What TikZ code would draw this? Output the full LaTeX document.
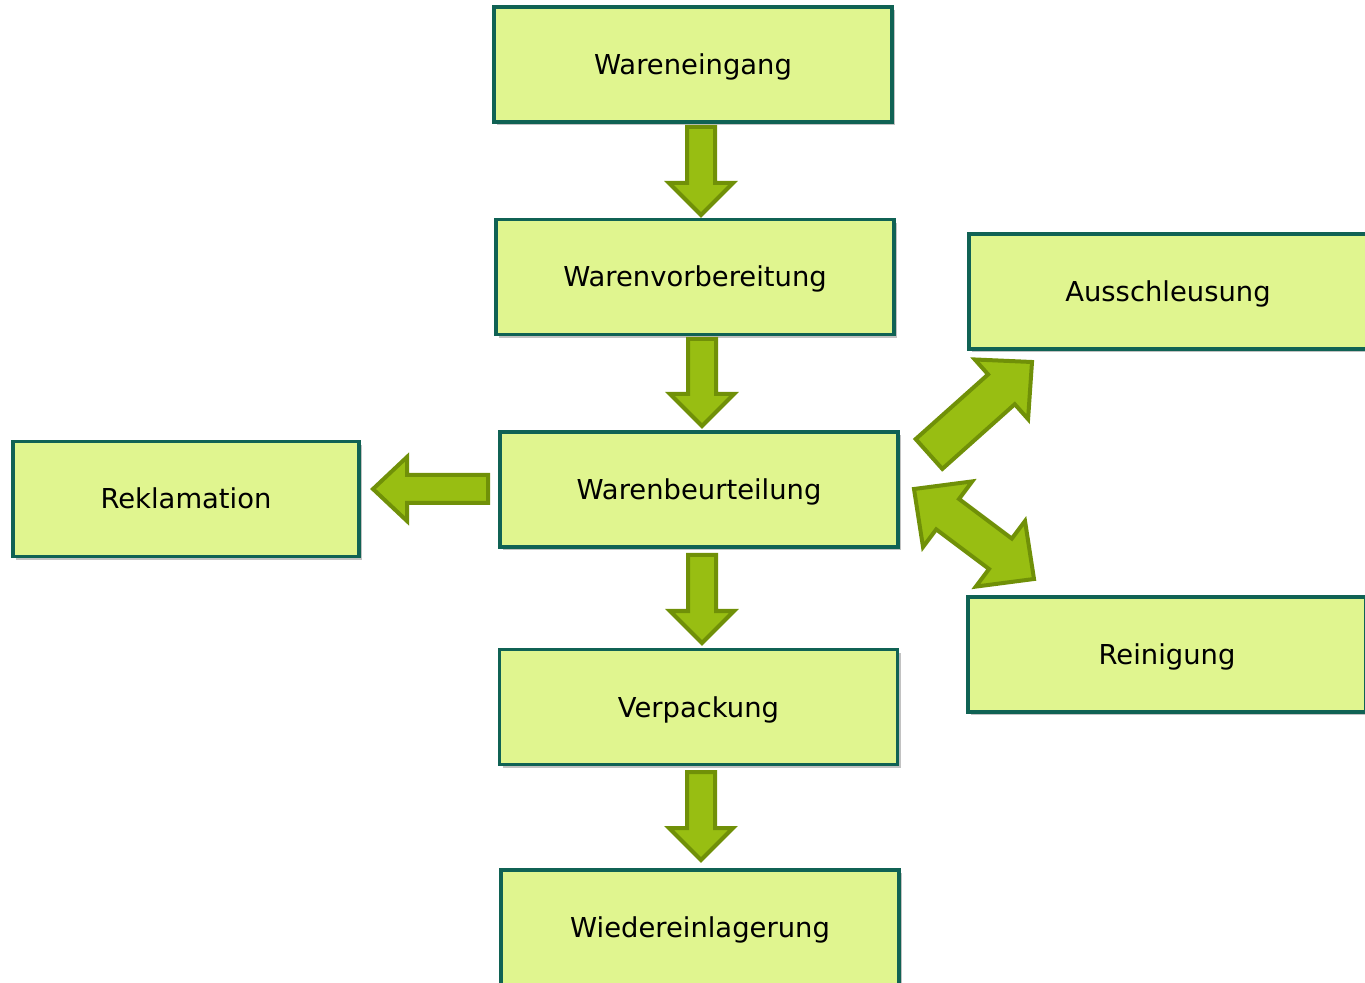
\documentclass[tikz,border=0pt]{standalone}
\usepackage{fontspec}
\setmainfont{DejaVu Sans}
\usetikzlibrary{calc,shadows}

\definecolor{boxfill}{RGB}{224,245,143}
\definecolor{boxline}{RGB}{16,98,84}
\definecolor{arrfill}{RGB}{152,190,18}
\definecolor{arrline}{RGB}{112,144,8}

\tikzset{
  stepbox/.style={draw=boxline, fill=boxfill, line width=1.6pt,
    minimum width=199pt, minimum height=57.5pt, inner sep=0pt,
    text height=10pt, text depth=0pt,
    font=\fontsize{13.7}{16}\selectfont,
    drop shadow={shadow xshift=1.6pt, shadow yshift=-1.6pt, fill=black!60, opacity=0.4}},
  barrow/.style={draw=arrline, fill=arrfill, line width=2pt, line join=miter}
}

% block arrow: tail, tip, half shaft, half head, head length
\newcommand{\blockarrow}[5]{
  \coordinate (hb) at ($(#2)!#5!(#1)$);
  \draw[barrow] ($(#1)!#3!90:(#2)$) -- ($(hb)!#3!90:(#2)$) -- ($(hb)!#4!90:(#2)$) -- (#2)
    -- ($(hb)!#4!-90:(#2)$) -- ($(hb)!#3!-90:(#2)$) -- ($(#1)!#3!-90:(#2)$) -- cycle;
}
% double block arrow: tip, tip, half shaft, half head, head length
\newcommand{\dblarrow}[5]{
  \coordinate (ha) at ($(#1)!#5!(#2)$);
  \coordinate (hb) at ($(#2)!#5!(#1)$);
  \draw[barrow] (#1) -- ($(ha)!#4!90:(#2)$) -- ($(ha)!#3!90:(#2)$) -- ($(hb)!#3!-90:(#1)$)
    -- ($(hb)!#4!-90:(#1)$) -- (#2) -- ($(hb)!#4!90:(#1)$) -- ($(hb)!#3!90:(#1)$)
    -- ($(ha)!#3!-90:(#2)$) -- ($(ha)!#4!-90:(#2)$) -- cycle;
}

\begin{document}
\begin{tikzpicture}[x=0.5pt,y=-0.5pt]

\useasboundingbox (0,0) rectangle (1365,983);
\clip (0,0) rectangle (1365,983);

\node[stepbox] (eingang) at (693,64.5) {Wareneingang};
\node[stepbox] (vorber) at (695,277) {Warenvorbereitung};
\node[stepbox] (beurt) at (699,489.5) {Warenbeurteilung};
\node[stepbox] (verp) at (698.5,707) {Verpackung};
\node[stepbox] (wieder) at (700,927.5) {Wiedereinlagerung};
\node[stepbox, minimum width=173pt] (rekl) at (186,499) {Reklamation};
\node[stepbox] (aussch) at (1168,291.5) {Ausschleusung};
\node[stepbox] (rein) at (1167,654.5) {Reinigung};

\coordinate (t1) at (701,127);  \coordinate (p1) at (701,215);
\coordinate (t2) at (702,339);  \coordinate (p2) at (702,426);
\coordinate (t3) at (702,555);  \coordinate (p3) at (702,643);
\coordinate (t4) at (701,772);  \coordinate (p4) at (701,860);
\coordinate (t5) at (488,489);  \coordinate (p5) at (373,489);
\coordinate (t6) at (929,454);  \coordinate (p6) at (1032,362);
\coordinate (p7) at (914,489);  \coordinate (p8) at (1034,579);

\blockarrow{t1}{p1}{7pt}{16pt}{16pt}
\blockarrow{t2}{p2}{7pt}{16pt}{16pt}
\blockarrow{t3}{p3}{7pt}{16pt}{16pt}
\blockarrow{t4}{p4}{7pt}{16pt}{16pt}
\blockarrow{t5}{p5}{7pt}{16pt}{17pt}
\blockarrow{t6}{p6}{10pt}{20pt}{20.5pt}
\dblarrow{p7}{p8}{9.5pt}{20.5pt}{21pt}

\end{tikzpicture}
\end{document}
